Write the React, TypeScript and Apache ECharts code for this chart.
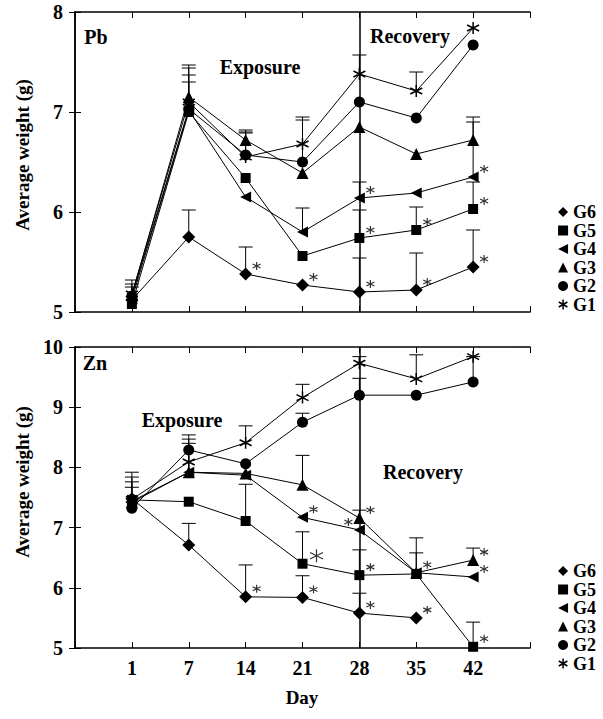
import React, { useEffect, useRef } from 'react';
import * as echarts from 'echarts';

// ---------- data ----------
const DAYS = ['1', '7', '14', '21', '28', '35', '42'];
const X_POS = [1, 2, 3, 4, 5, 6, 7];
const GROUPS = ['G6', 'G5', 'G4', 'G3', 'G2', 'G1'];

// Pb panel: mean weights
const PB_G1 = [5.18, 7.1, 6.55, 6.68, 7.38, 7.21, 7.84];
const PB_G2 = [5.16, 7.03, 6.57, 6.5, 7.1, 6.94, 7.67];
const PB_G3 = [5.17, 7.15, 6.72, 6.39, 6.85, 6.58, 6.72];
const PB_G4 = [5.13, 7.02, 6.15, 5.8, 6.14, 6.19, 6.35];
const PB_G5 = [5.08, 7.0, 6.34, 5.56, 5.74, 5.82, 6.03];
const PB_G6 = [5.12, 5.75, 5.38, 5.27, 5.2, 5.22, 5.45];
// Pb panel: upper end of error bars
const PB_ERR_G1 = [5.32, 7.44, 6.8, 6.95, 7.57, 7.4, null];
const PB_ERR_G2 = [5.28, 7.37, 6.79, 6.92, null, null, null];
const PB_ERR_G3 = [5.25, 7.47, 6.82, null, null, null, 6.95];
const PB_ERR_G4 = [null, 7.3, null, 6.04, 6.3, null, 6.9];
const PB_ERR_G5 = [null, null, null, null, 6.02, 6.05, 6.3];
const PB_ERR_G6 = [null, 6.02, 5.65, null, 5.54, 5.59, 5.82];
// Pb panel: significance marks (1 = right, 2 = left, 3 = large)
const PB_SIG_G1 = [0, 0, 0, 0, 0, 0, 0];
const PB_SIG_G2 = [0, 0, 0, 0, 0, 0, 0];
const PB_SIG_G3 = [0, 0, 0, 0, 0, 0, 0];
const PB_SIG_G4 = [0, 0, 0, 0, 1, 0, 1];
const PB_SIG_G5 = [0, 0, 0, 0, 1, 1, 1];
const PB_SIG_G6 = [0, 0, 1, 1, 1, 1, 1];

// Zn panel: mean weights
const ZN_G1 = [7.47, 8.09, 8.41, 9.16, 9.73, 9.47, 9.84];
const ZN_G2 = [7.32, 8.29, 8.06, 8.75, 9.2, 9.2, 9.42];
const ZN_G3 = [7.42, 7.92, 7.9, 7.71, 7.16, 6.25, 6.46];
const ZN_G4 = [7.44, 7.92, 7.87, 7.17, 6.96, 6.25, 6.18];
const ZN_G5 = [7.46, 7.43, 7.11, 6.4, 6.21, 6.23, 5.02];
const ZN_G6 = [7.48, 6.71, 5.85, 5.84, 5.58, 5.5, null];
// Zn panel: upper end of error bars
const ZN_ERR_G1 = [7.92, 8.47, 8.69, 9.38, 9.84, 9.87, null];
const ZN_ERR_G2 = [7.84, 8.54, null, 8.9, 9.48, null, 9.84];
const ZN_ERR_G3 = [7.76, 8.4, null, 8.2, 7.29, 6.83, 6.66];
const ZN_ERR_G4 = [7.67, null, null, null, null, 6.58, null];
const ZN_ERR_G5 = [null, null, 7.72, 6.93, 6.63, null, 5.43];
const ZN_ERR_G6 = [null, 7.07, 6.38, 6.2, 5.91, null, null];
// Zn panel: significance marks
const ZN_SIG_G1 = [0, 0, 0, 0, 0, 0, 0];
const ZN_SIG_G2 = [0, 0, 0, 0, 0, 0, 0];
const ZN_SIG_G3 = [0, 0, 0, 0, 1, 1, 1];
const ZN_SIG_G4 = [0, 0, 0, 1, 2, 0, 1];
const ZN_SIG_G5 = [0, 0, 0, 3, 1, 0, 1];
const ZN_SIG_G6 = [0, 0, 1, 1, 1, 1, 0];

// ---------- styles ----------
const FONT = 'Liberation Serif';
const ASTERISK = 'path://M5 0 L5 10 M0.67 2.5 L9.33 7.5 M0.67 7.5 L9.33 2.5';
const LEFT_TRI = 'path://M0 5 L10 0 L10 10 Z';
const SYMBOLS: Record<string, string> = {
  G1: ASTERISK, G2: 'circle', G3: 'triangle', G4: LEFT_TRI, G5: 'rect', G6: 'diamond',
};
const SIZES: Record<string, number> = { G1: 12, G2: 11, G3: 12, G4: 11, G5: 10, G6: 13 };

const PANELS = [
  {
    vals: { G1: PB_G1, G2: PB_G2, G3: PB_G3, G4: PB_G4, G5: PB_G5, G6: PB_G6 },
    errs: { G1: PB_ERR_G1, G2: PB_ERR_G2, G3: PB_ERR_G3, G4: PB_ERR_G4, G5: PB_ERR_G5, G6: PB_ERR_G6 },
    sigs: { G1: PB_SIG_G1, G2: PB_SIG_G2, G3: PB_SIG_G3, G4: PB_SIG_G4, G5: PB_SIG_G5, G6: PB_SIG_G6 },
  },
  {
    vals: { G1: ZN_G1, G2: ZN_G2, G3: ZN_G3, G4: ZN_G4, G5: ZN_G5, G6: ZN_G6 },
    errs: { G1: ZN_ERR_G1, G2: ZN_ERR_G2, G3: ZN_ERR_G3, G4: ZN_ERR_G4, G5: ZN_ERR_G5, G6: ZN_ERR_G6 },
    sigs: { G1: ZN_SIG_G1, G2: ZN_SIG_G2, G3: ZN_SIG_G3, G4: ZN_SIG_G4, G5: ZN_SIG_G5, G6: ZN_SIG_G6 },
  },
];

const errRender = (params: any, api: any) => {
  const x = api.value(0);
  const p0 = api.coord([x, api.value(1)]);
  const p1 = api.coord([x, api.value(2)]);
  const st = { stroke: '#000', lineWidth: 1 };
  return {
    type: 'group',
    children: [
      { type: 'line', shape: { x1: p0[0], y1: p0[1], x2: p1[0], y2: p1[1] }, style: st },
      { type: 'line', shape: { x1: p1[0] - 7, y1: p1[1], x2: p1[0] + 7, y2: p1[1] }, style: st },
    ],
  };
};

function buildSeries() {
  const series: any[] = [];
  PANELS.forEach((panel, p) => {
    const sigData: any[] = [];
    GROUPS.forEach((g) => {
      const vals = (panel.vals as any)[g] as (number | null)[];
      const errs = (panel.errs as any)[g] as (number | null)[];
      const sigs = (panel.sigs as any)[g] as number[];
      const errData: any[] = [];
      vals.forEach((v, i) => {
        if (v != null && errs[i] != null) errData.push([X_POS[i], v, errs[i]]);
      });
      series.push({
        type: 'custom',
        name: 'err-' + g,
        xAxisIndex: p * 2,
        yAxisIndex: p * 2,
        silent: true,
        z: 2,
        renderItem: errRender,
        encode: { x: 0, y: [1, 2] },
        data: errData,
      });
      const data: any[] = [];
      vals.forEach((v, i) => {
        if (v == null) return;
        data.push([X_POS[i], v]);
        const s = sigs[i];
        if (s) {
          sigData.push({
            value: [X_POS[i], v],
            symbolSize: s === 3 ? 13 : 8,
            symbolOffset: s === 2 ? [-11, -8] : s === 3 ? [14, -8] : [11, -8],
          });
        }
      });
      const s: any = {
        type: 'line',
        name: g,
        xAxisIndex: p * 2,
        yAxisIndex: p * 2,
        symbol: SYMBOLS[g],
        symbolSize: SIZES[g],
        showAllSymbol: true,
        z: 3,
        lineStyle: { color: '#000', width: 1 },
        itemStyle: g === 'G1'
          ? { color: '#000', borderColor: '#000', borderWidth: 1.5 }
          : { color: '#000', borderWidth: 0 },
        label: { show: false },
        data,
      };
      if (g === 'G6') {
        s.markLine = {
          silent: true,
          symbol: ['none', 'none'],
          label: { show: false },
          lineStyle: { color: '#000', width: 1.5, type: 'solid' },
          data: [{ xAxis: 5 }],
        };
      }
      series.push(s);
    });
    // significance asterisks
    series.push({
      type: 'scatter',
      name: 'sig',
      xAxisIndex: p * 2,
      yAxisIndex: p * 2,
      silent: true,
      z: 4,
      symbol: ASTERISK,
      itemStyle: { color: '#000', borderColor: '#000', borderWidth: 1.2 },
      data: sigData,
    });
  });
  return series;
}

const axisLine = { show: true, lineStyle: { color: '#000', width: 1.5 } };
const axisTick = { show: true, inside: true, length: 6, lineStyle: { color: '#000', width: 1 } };
const labelStyle = { fontFamily: FONT, fontWeight: 'bold' as const, fontSize: 20, color: '#000' };

function xAxes(grid: number, showLabels: boolean) {
  return [
    {
      type: 'value', gridIndex: grid, position: 'bottom', min: 0, max: 8, interval: 1,
      axisLine, axisTick, splitLine: { show: false },
      axisLabel: {
        show: showLabels, margin: 10, ...labelStyle,
        formatter: (v: number) => (v >= 1 && v <= 7 ? DAYS[v - 1] : ''),
      },
    },
    {
      type: 'value', gridIndex: grid, position: 'top', min: 0, max: 8, interval: 1,
      axisLine, axisTick, splitLine: { show: false }, axisLabel: { show: false },
    },
  ];
}

function yAxes(grid: number, min: number, max: number) {
  return [
    {
      type: 'value', gridIndex: grid, position: 'left', min, max, interval: 1,
      axisLine, axisTick, splitLine: { show: false },
      axisLabel: { show: true, margin: 12, ...labelStyle },
    },
    {
      type: 'value', gridIndex: grid, position: 'right', min, max, interval: 1,
      axisLine, axisTick, splitLine: { show: false }, axisLabel: { show: false },
    },
  ];
}

const legendData = GROUPS.map((g) => ({
  name: g,
  icon: SYMBOLS[g],
  itemStyle: g === 'G1'
    ? { color: '#000', borderColor: '#000', borderWidth: 1.5 }
    : { color: '#000', borderWidth: 0 },
}));

const legendBase = {
  orient: 'vertical',
  left: 553,
  itemWidth: 10,
  itemHeight: 10,
  itemGap: 0.5,
  selectedMode: false,
  textStyle: { fontFamily: FONT, fontWeight: 'bold', fontSize: 18, color: '#000', lineHeight: 15 },
  data: legendData,
};

const txt = (text: string, x: number, y: number, size = 20, rot = 0) => ({
  type: 'text',
  x, y,
  rotation: rot,
  silent: true,
  style: {
    text, fill: '#000', font: `bold ${size}px "${FONT}"`,
    textAlign: 'center', textVerticalAlign: 'middle',
  },
});

const option: any = {
  animation: false,
  backgroundColor: '#fff',
  grid: [
    { left: 75, top: 12, width: 455, height: 300 },
    { left: 75, top: 347, width: 455, height: 301 },
  ],
  xAxis: [...xAxes(0, false), ...xAxes(1, true)],
  yAxis: [...yAxes(0, 5, 8), ...yAxes(1, 5, 10)],
  legend: [
    { ...legendBase, top: 198 },
    { ...legendBase, top: 557 },
  ],
  graphic: [
    txt('Pb', 96, 37),
    txt('Exposure', 260, 67),
    txt('Recovery', 410, 36),
    txt('Zn', 95, 363),
    txt('Exposure', 182, 420),
    txt('Recovery', 423, 472),
    txt('Day', 302, 697, 19),
    txt('Average weight (g)', 22, 155, 19, Math.PI / 2),
    txt('Average weight (g)', 22, 482, 19, Math.PI / 2),
  ],
  series: buildSeries(),
};

export default function App() {
  const ref = useRef<HTMLDivElement>(null);
  useEffect(() => {
    const chart = echarts.init(ref.current!, null, { renderer: 'svg' });
    chart.setOption(option);
    return () => chart.dispose();
  }, []);
  return (
    <div
      ref={ref}
      style={{ position: 'fixed', left: 0, top: 0, width: 603, height: 719, background: '#fff' }}
    />
  );
}
